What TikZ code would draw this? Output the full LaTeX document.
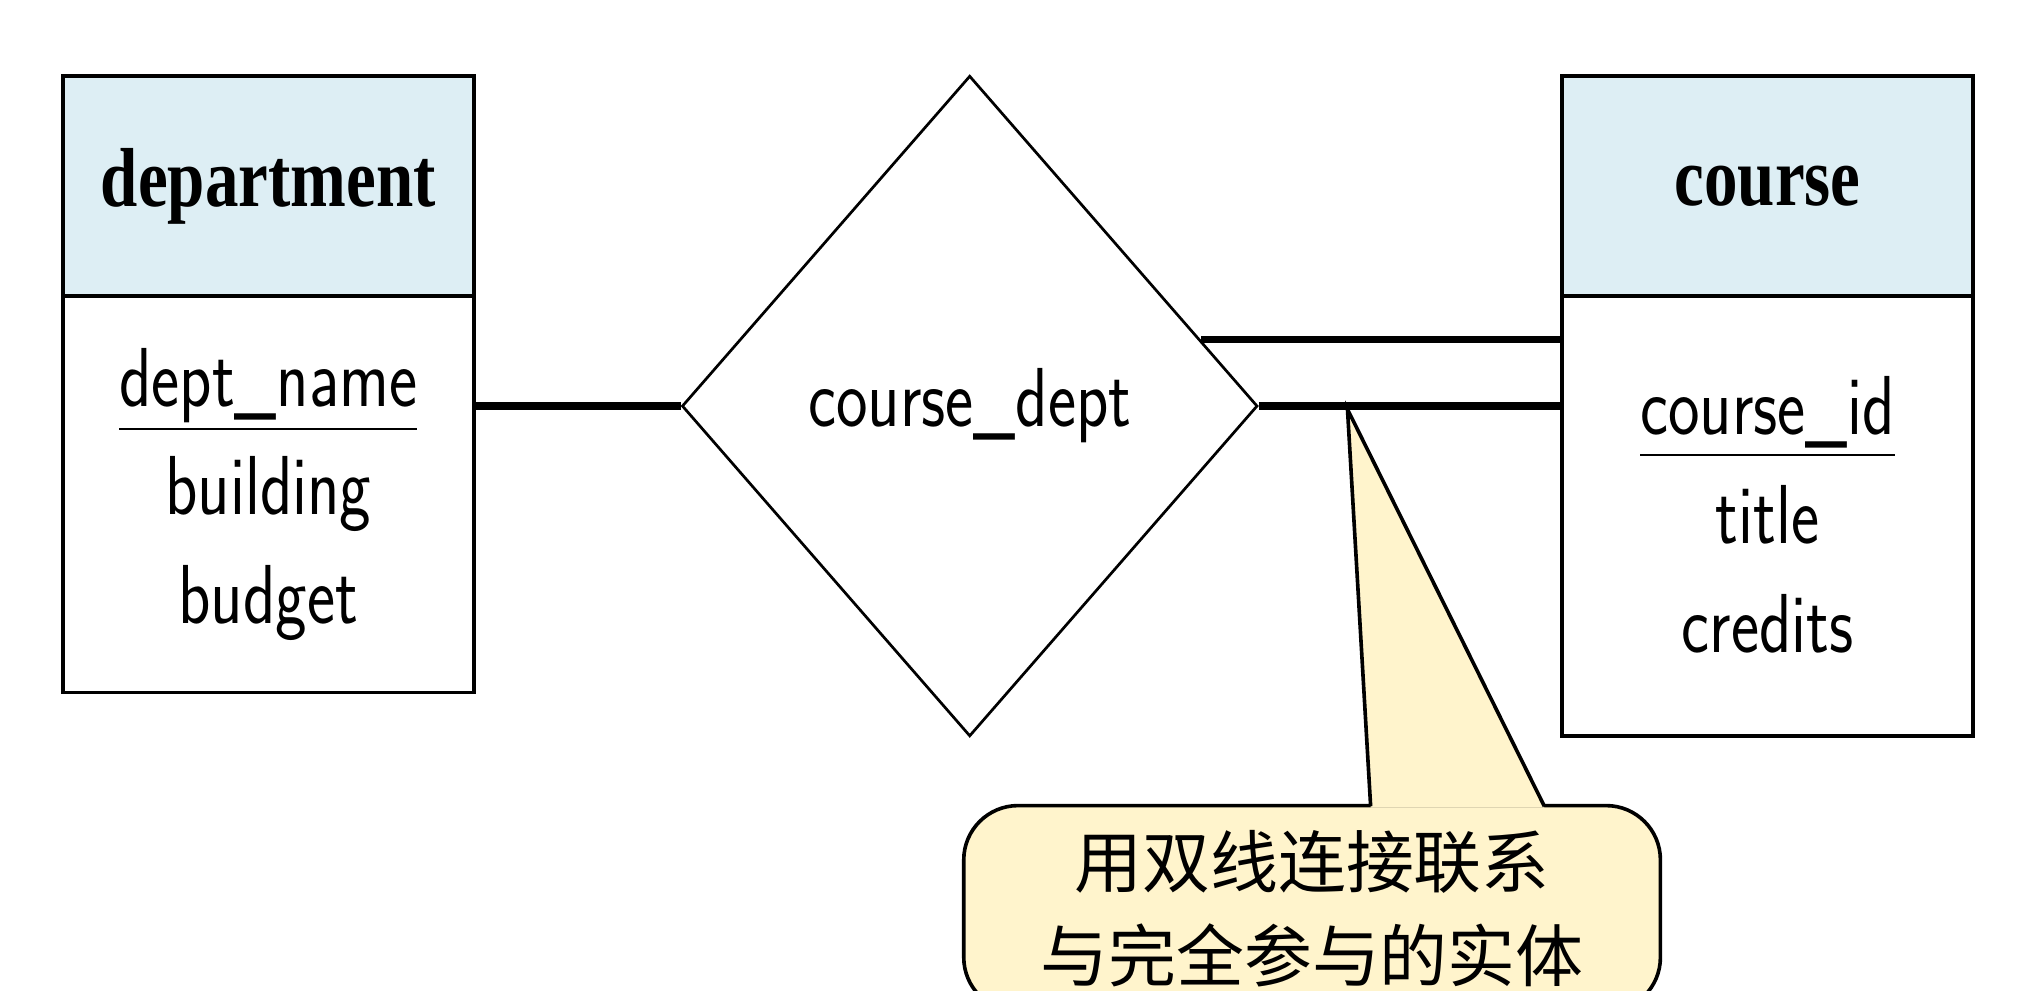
\documentclass[tikz,border=0pt]{standalone}
\usepackage{fontspec}
\setmainfont{Liberation Serif}
\newfontfamily\cjk{Noto Sans CJK SC}
\usetikzlibrary{shapes.geometric,calc}
\definecolor{headblue}{HTML}{DDEEF4}
\definecolor{notefill}{HTML}{FFF4CC}
\tikzset{
  entbox/.style={rectangle, draw, line width=0.8pt, minimum width=3.19cm, inner sep=0pt},
  relbox/.style={diamond, draw, line width=0.6pt, minimum width=4.47cm, minimum height=5.13cm, aspect=0.87, inner sep=0pt},
  link/.style={line width=1.6pt},
  attr/.style={font=\fontsize{18.5}{24}\selectfont\sffamily, align=center}
}
\newcommand{\narrow}[1]{\scalebox{0.8}[1]{#1}}
\begin{document}
\begin{tikzpicture}[x=0.01cm,y=-0.01cm]
    \useasboundingbox (0,0) rectangle (1568,770);
    \clip (0,0) rectangle (1568,770);

    % Entities
    \node[entbox, fill=headblue, minimum height=1.71cm] (dhead) at (208.5,144.5) {\fontsize{18.5}{22}\selectfont\bfseries\narrow{department}};
    \node[entbox, minimum height=3.08cm] (dbody) at (208.5,384) {};
    \node[attr] (dattr) at (208.5,384) {\narrow{\underline{dept\_name}}\\\narrow{building}\\\narrow{budget}};
    \node[entbox, fill=headblue, minimum height=1.71cm] (chead) at (1373.5,144.5) {\fontsize{18.5}{22}\selectfont\bfseries\narrow{course}};
    \node[entbox, minimum height=3.42cm] (cbody) at (1373.5,401) {};
    \node[attr] (cattr) at (1373.5,400) {\narrow{\underline{course\_id}}\\\narrow{title}\\\narrow{credits}};

    % Relationship
    \node[relbox] (rel) at (753.5,315.5) {\fontsize{18.5}{24}\selectfont\sffamily\narrow{course\_dept}};

    % Connectors
    \draw[link] (dbody.east |- rel.west) -- (rel.west);
    \draw[link] (rel.east) -- (cbody.west |- rel.east);
    \coordinate (upper) at ($(rel.north)!0.8!(rel.east)$);
    \draw[link] (upper) -- (cbody.west |- upper);

    % Callout
    \node[draw, line width=0.8pt, rounded corners=12pt, fill=notefill, minimum width=5.41cm, minimum height=1.60cm, align=center, font=\cjk\fontsize{15}{20.8}\selectfont] (note) at (1019.5,706) {用双线连接联系\\与完全参与的实体};
    \coordinate (tip) at (1047,318);
    \fill[notefill] (1065,627.5) -- (tip) -- (1200,627.5) -- cycle;
    \draw[line width=0.8pt] (1065,626.5) -- (tip) -- (1200,626.5);
\end{tikzpicture}
\end{document}
